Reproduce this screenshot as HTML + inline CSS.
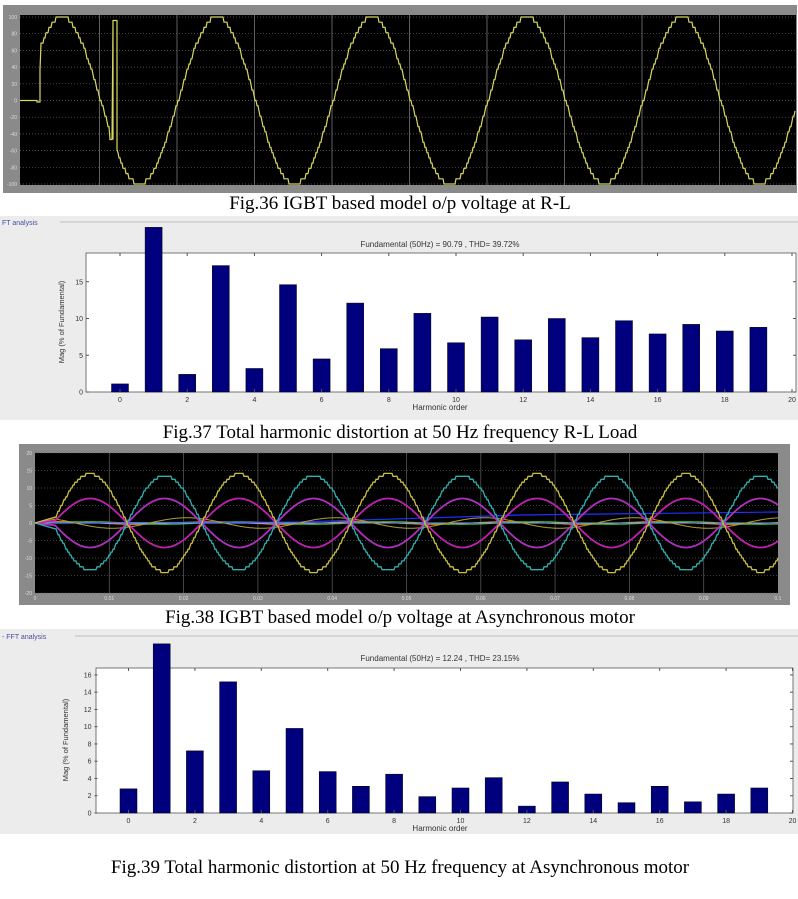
<!DOCTYPE html>
<html><head><meta charset="utf-8"><style>
html,body{margin:0;padding:0;background:#fff;}
body{width:798px;height:899px;overflow:hidden;position:relative;}
svg{position:absolute;left:0;top:0;}
</style></head><body>
<svg id="s" width="798" height="899" viewBox="0 0 798 899" xmlns="http://www.w3.org/2000/svg" font-family="Liberation Sans, sans-serif">
<!-- Fig36 -->
<rect x="3" y="5" width="794" height="188" fill="#8a8a8a"/>
<rect x="20" y="15" width="776" height="170" fill="#000"/>
<g id="g36"></g>
<text x="400" y="209" font-family="Liberation Serif, serif" font-size="19" text-anchor="middle">Fig.36 IGBT based model o/p voltage at R-L</text>
<!-- Fig37 -->
<rect x="0" y="216" width="798" height="204" fill="#ececec"/>
<line x1="60" y1="222" x2="798" y2="222" stroke="#bbb"/>
<text x="2" y="225" font-size="7" fill="#4050a0">FT analysis</text>
<text x="440" y="247" font-size="8" fill="#333" text-anchor="middle">Fundamental (50Hz) = 90.79 , THD= 39.72%</text>
<rect x="86" y="253" width="710" height="139" fill="#fff" stroke="#555" stroke-width="0.8"/>
<g id="g37"></g>
<text x="440" y="410" font-size="8" fill="#333" text-anchor="middle">Harmonic order</text>
<text x="64" y="322" font-size="7.5" fill="#333" text-anchor="middle" transform="rotate(-90 64 322)">Mag (% of Fundamental)</text>
<text x="400" y="438" font-family="Liberation Serif, serif" font-size="19" text-anchor="middle">Fig.37 Total harmonic distortion at 50 Hz frequency R-L Load</text>
<!-- Fig38 -->
<rect x="19" y="444" width="771" height="161" fill="#8a8a8a"/>
<rect x="35" y="453" width="743" height="140" fill="#000"/>
<g id="g38"></g>
<text x="400" y="623" font-family="Liberation Serif, serif" font-size="19" text-anchor="middle">Fig.38 IGBT based model o/p voltage at Asynchronous motor</text>
<!-- Fig39 -->
<rect x="0" y="629" width="798" height="205" fill="#ececec"/>
<line x1="75" y1="636" x2="798" y2="636" stroke="#bbb"/>
<text x="2" y="639" font-size="7" fill="#4050a0">- FFT analysis</text>
<text x="440" y="661" font-size="8" fill="#333" text-anchor="middle">Fundamental (50Hz) = 12.24 , THD= 23.15%</text>
<rect x="96" y="668" width="697" height="145" fill="#fff" stroke="#555" stroke-width="0.8"/>
<g id="g39"></g>
<text x="440" y="831" font-size="8" fill="#333" text-anchor="middle">Harmonic order</text>
<text x="68" y="740" font-size="7.5" fill="#333" text-anchor="middle" transform="rotate(-90 68 740)">Mag (% of Fundamental)</text>
<text x="400" y="873" font-family="Liberation Serif, serif" font-size="19" text-anchor="middle">Fig.39 Total harmonic distortion at 50 Hz frequency at Asynchronous motor</text>
</svg>
<script>
var NS="http://www.w3.org/2000/svg";
function el(g,t,a,txt){var e=document.createElementNS(NS,t);for(var k in a)e.setAttribute(k,a[k]);if(txt!=null)e.textContent=txt;document.getElementById(g).appendChild(e);return e;}
function stepQ(v,amp){var n=16;return Math.round(v/amp*n)/n*amp;}
// Fig36
(function(){
 var g="g36";
 for(var i=0;i<=10;i++){var y=17+i*16.7;var v=100-i*20;
  el(g,"line",{x1:20,x2:796,y1:y,y2:y,stroke:"#666","stroke-dasharray":"1,2","stroke-width":0.7});
  el(g,"text",{x:17,y:y+2,"font-size":5,fill:"#ddd","text-anchor":"end"},v);}
 for(var i=1;i<10;i++){var x=22+i*77.5;el(g,"line",{x1:x,x2:x,y1:15,y2:185,stroke:"#777","stroke-width":0.8});}
 var d="M20 100.5 L37 100.5 L37 102 L40 102 L40 70";
 for(var x=41;x<=795;x++){
   var v=83.5*Math.cos(2*Math.PI*(x-62)/155);
   var q=stepQ(v,83.5);
   if(x>=110&&x<113)q=-39;
   if(x>=113&&x<=117)q=80;
   d+=" L"+x+" "+(100.5-q).toFixed(1);
   if(x==113)d+=" L113 139.5 L113 20.5";
   if(x==117)d+=" L117 20.5 L117 150";
 }
 el(g,"path",{d:d,fill:"none",stroke:"#d8d860","stroke-width":1.2});
})();
// bar charts
function bars(g,x0,dx,y0,sc,top,right,vals,yt,ytk){
 for(var i=0;i<vals.length;i++){var h=vals[i]*sc;var x=x0+i*dx;
  el(g,"rect",{x:x-8.5,y:y0-h,width:17,height:h,fill:"#00007f",stroke:"#000",  "stroke-width":0.5});}
 for(var k=0;k<=20;k+=2){var x=x0+k*dx;
  el(g,"line",{x1:x,x2:x,y1:y0,y2:y0-3,stroke:"#555"});
  el(g,"line",{x1:x,x2:x,y1:top,y2:top+3,stroke:"#555"});
  el(g,"text",{x:x,y:y0+10,"font-size":7,fill:"#333","text-anchor":"middle"},k);}
 for(var j=0;j<yt.length;j++){var y=y0-yt[j]*sc;
  el(g,"line",{x1:x0-34,x2:x0-31,y1:y,y2:y,stroke:"#555"});
  el(g,"line",{x1:right,x2:right-3,y1:y,y2:y,stroke:"#555"});
  el(g,"text",{x:x0-37,y:y+2.5,"font-size":7,fill:"#333","text-anchor":"end"},yt[j]);}
}
bars("g37",120,33.6,392,7.35,253,796,[1.1,22.4,2.4,17.2,3.2,14.6,4.5,12.1,5.9,10.7,6.7,10.2,7.1,10,7.4,9.7,7.9,9.2,8.3,8.8],[0,5,10,15]);
bars("g39",128.5,33.2,813,8.63,668,793,[2.8,19.6,7.2,15.2,4.9,9.8,4.8,3.1,4.5,1.9,2.9,4.1,0.8,3.6,2.2,1.2,3.1,1.3,2.2,2.9],[0,2,4,6,8,10,12,14,16]);
// Fig38
(function(){
 var g="g38";
 for(var i=0;i<=8;i++){var y=453+i*17.5;var v=20-i*5;
  el(g,"line",{x1:35,x2:778,y1:y,y2:y,stroke:"#555","stroke-dasharray":"1,2","stroke-width":0.7});
  el(g,"text",{x:32,y:y+2,"font-size":5,fill:"#ddd","text-anchor":"end"},v);}
 for(var i=0;i<=10;i++){var x=35+i*74.3;
  if(i>0&&i<10)el(g,"line",{x1:x,x2:x,y1:453,y2:593,stroke:"#555","stroke-width":0.8});
  el(g,"text",{x:x,y:600,"font-size":5,fill:"#ddd","text-anchor":"middle"},i==0?"0":(i==10?"0.1":"0.0"+i));}
 function wave(amp,ph,col,stepped,sw){
  var d="M35 523";
  for(var x=55;x<=778;x++){var v=amp*Math.cos(2*Math.PI*(x-90)/149+ph);
   if(stepped)v=Math.round(v*1.2)/1.2; d+=" L"+x+" "+(523-v*3.5).toFixed(1);}
  el(g,"path",{d:d,fill:"none",stroke:col,"stroke-width":sw||1.2});}
 wave(0.4,1.2,"#f08030",false,1);
 wave(0.4,0,"#30c030",false,1);
 el(g,"path",{d:"M35 523 L300 522 L520 515 L778 512",fill:"none",stroke:"#2030ff","stroke-width":1.2});
 el(g,"path",{d:"M35 523 L778 523",fill:"none",stroke:"#80a0ff","stroke-width":1});
 wave(1.5,2.2,"#b0a030",false,1);
 wave(7,0,"#c020b0",false,1.8);
 wave(-7,0,"#b030c0",false,1.8);
 wave(-13.5,0,"#30b0b0",true,1.3);
 wave(14,0,"#c8c040",true,1.3);
})();
</script>
</body></html>
